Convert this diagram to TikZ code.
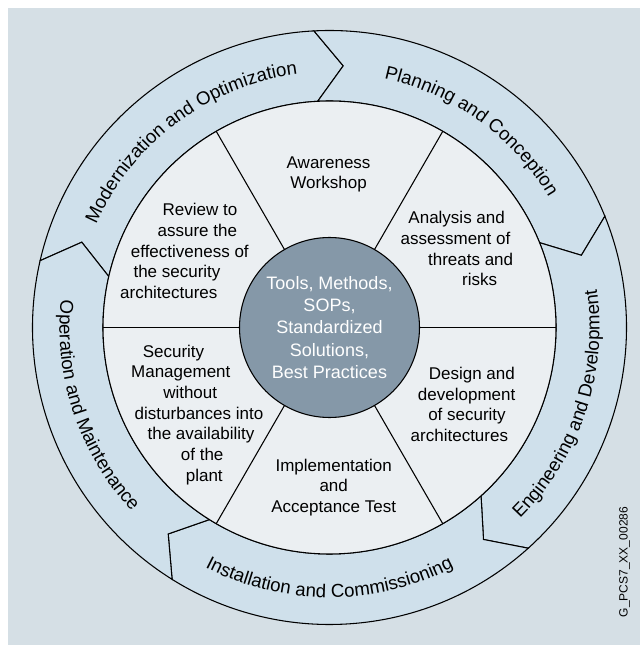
\documentclass[tikz,border=0pt]{standalone}
\usepackage{fontspec}
\setmainfont{Liberation Sans}
\usetikzlibrary{decorations.text}
\definecolor{bgc}{RGB}{213,223,229}
\definecolor{ringc}{RGB}{207,224,235}
\definecolor{secc}{RGB}{235,239,242}
\definecolor{hubc}{RGB}{133,152,168}
\newcommand{\secfont}{\fontsize{12.75pt}{15.5pt}\selectfont}
\newcommand{\hubfont}{\fontsize{13.5pt}{16.7pt}\selectfont}
\newcommand{\ringfont}{\fontsize{14pt}{16pt}\selectfont}
\newcommand{\ringseg}[2]{%
  \draw[seg] (#1:297) arc[start angle=#1,end angle=#2,radius=297]
    -- ({#2-6}:262) -- (#2:226.5)
    arc[start angle=#2,end angle=#1,radius=226.5]
    -- ({#1-6}:262) -- cycle;}
\newcommand{\cwlabel}[2]{%
  \path[decorate,decoration={text along path,text align=center,text={|\ringfont|#2}}]
    ({#1+40}:255) arc[start angle={#1+40},end angle={#1-40},radius=255];}
\newcommand{\ccwlabel}[2]{%
  \path[decorate,decoration={text along path,text align=center,text={|\ringfont|#2}}]
    ({#1-40}:270) arc[start angle={#1-40},end angle={#1+40},radius=270];}
\begin{document}
\begin{tikzpicture}[x=0.75pt,y=0.75pt,
  seg/.style={fill=ringc,draw=black,line width=0.8pt,line join=miter},
  divider/.style={draw=black,line width=0.8pt},
  sectxt/.style={align=center,font=\secfont,inner sep=0pt}]
\useasboundingbox (-329.5,-317.5) rectangle (310.5,327.5);
\fill[white] (-329.5,-317.5) rectangle (310.5,327.5);
\fill[bgc] (-321.5,-317.5) rectangle (310.5,319.5);
% outer ring of arrow segments
\ringseg{167}{93}
\ringseg{93}{22}
\ringseg{22}{-48}
\ringseg{-48}{-122}
\ringseg{-122}{-193}
% inner disk and sectors
\draw[fill=secc,line width=0.8pt] (0,0) circle[radius=226.5];
\foreach \a in {0,60,...,300} \draw[divider] (\a:90) -- (\a:226.5);
\node[circle,draw=black,line width=0.8pt,fill=hubc,minimum size=135pt,inner sep=0pt,
  text=white,align=center,font=\hubfont] (hub) at (0,0)
  {Tools, Methods,\\SOPs,\\Standardized\\Solutions,\\Best Practices};
% sector texts
\node[sectxt] (aw) at (-0.9,153) {Awareness\\Workshop};
\node[sectxt] (an) at (126.5,78.6) {\hspace*{1pt}Analysis and\\\hspace*{-0.75pt}assessment of\\\hspace*{21.9pt}threats and\\\hspace*{35.4pt}risks};
\node[sectxt] (de) at (136.5,-76.9) {\hspace*{8.7pt}Design and\\\hspace*{1pt}development\\\hspace*{1.5pt}of security\\\hspace*{-9.9pt}architectures};
\node[sectxt] (im) at (4.2,-159.9) {Implementation\\and\\Acceptance Test};
\node[sectxt] (sm) at (-134.5,-87.4) {\hspace*{-32.25pt}Security\\\hspace*{-21.3pt}Management\\\hspace*{-7.2pt}without\\\hspace*{6pt}disturbances into\\\hspace*{9pt}the availability\\\hspace*{10.8pt}of the\\\hspace*{13.95pt}plant};
\node[sectxt] (rv) at (-144.5,76.5) {\hspace*{22.5pt}Review to\\\hspace*{18.45pt}assure the\\\hspace*{7.2pt}effectiveness of\\\hspace*{-12pt}the security\\\hspace*{-24.3pt}architectures};
% ring texts
\cwlabel{126.7}{Modernization and Optimization}
\cwlabel{54.2}{Planning and Conception}
\ccwlabel{-18.5}{Engineering and Development}
\ccwlabel{-90}{Installation and Commissioning}
\ccwlabel{198.5}{Operation and Maintenance}
% figure code
\node[rotate=90,font=\fontsize{9pt}{11pt}\selectfont,inner sep=0pt] (code) at (295,-234.5) {G\_PCS7\_XX\_00286};
\end{tikzpicture}
\end{document}
